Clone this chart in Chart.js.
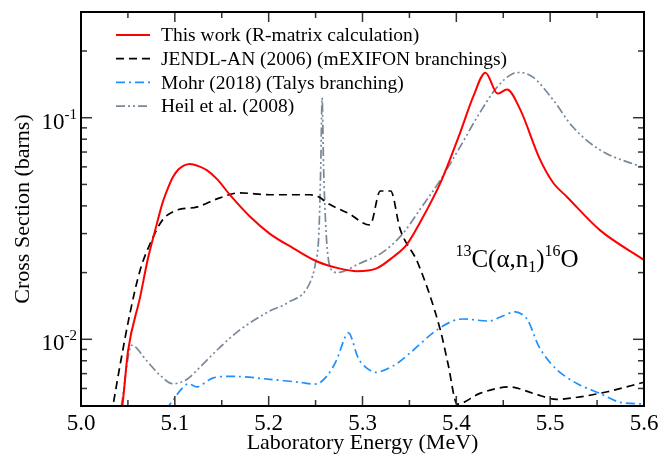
<!DOCTYPE html>
<html>
<head>
<meta charset="utf-8">
<script src="https://cdn.jsdelivr.net/npm/chart.js@4.4.1/dist/chart.umd.min.js"></script>
<style>
  html, body { margin: 0; padding: 0; background: #fff; }
</style>
</head>
<body>
<canvas id="seccionChart" width="659" height="456"></canvas>
<script>
// Energias (MeV) y secciones eficaces (barns)
const rmatrixE = [5.040, 5.044, 5.050, 5.063, 5.071, 5.079, 5.087, 5.093, 5.098, 5.104, 5.110, 5.116, 5.126, 5.134, 5.145, 5.159, 5.180, 5.201, 5.226, 5.251, 5.275, 5.294, 5.315, 5.333, 5.347, 5.361, 5.383, 5.404, 5.418, 5.431, 5.444, 5.454, 5.468, 5.489, 5.503, 5.518, 5.553, 5.600];
const rmatrixY = [0.0042, 0.0050, 0.0088, 0.0155, 0.0228, 0.031, 0.0414, 0.0485, 0.054, 0.0585, 0.0610, 0.0619, 0.0603, 0.058, 0.0528, 0.0447, 0.0358, 0.0300, 0.0258, 0.0225, 0.0209, 0.0203, 0.0209, 0.0236, 0.0267, 0.0335, 0.0508, 0.0855, 0.1245, 0.1597, 0.1285, 0.134, 0.109, 0.0650, 0.0510, 0.0439, 0.0311, 0.0228];

const jendlE = [5.030, 5.034, 5.042, 5.052, 5.063, 5.077, 5.087, 5.100, 5.124, 5.148, 5.169, 5.201, 5.244, 5.255, 5.262, 5.285, 5.308, 5.319, 5.330, 5.340, 5.359, 5.383, 5.391, 5.401, 5.425, 5.457, 5.482, 5.507, 5.532, 5.561, 5.600];
const jendlY = [0.0040, 0.0050, 0.0078, 0.0130, 0.0205, 0.029, 0.0346, 0.038, 0.0396, 0.0435, 0.0458, 0.0449, 0.0449, 0.0435, 0.0413, 0.037, 0.0328, 0.0467, 0.0467, 0.0315, 0.0221, 0.011, 0.0078, 0.0051, 0.0057, 0.0061, 0.0057, 0.00536, 0.0055, 0.0058, 0.0064];

const mohrE = [5.090, 5.098, 5.106, 5.114, 5.124, 5.141, 5.166, 5.201, 5.233, 5.252, 5.263, 5.272, 5.285, 5.297, 5.313, 5.333, 5.351, 5.379, 5.402, 5.436, 5.447, 5.463, 5.475, 5.489, 5.507, 5.529, 5.553, 5.574, 5.600];
const mohrY = [0.0048, 0.0053, 0.0059, 0.0063, 0.0061, 0.0067, 0.0068, 0.0066, 0.0064, 0.0063, 0.0069, 0.0080, 0.0107, 0.0080, 0.0071, 0.0076, 0.0087, 0.0110, 0.0123, 0.0121, 0.0126, 0.0133, 0.0124, 0.0091, 0.0073, 0.0063, 0.0057, 0.0052, 0.0051];

const heilE = [5.043, 5.054, 5.070, 5.084, 5.098, 5.113, 5.127, 5.148, 5.169, 5.201, 5.220, 5.244, 5.250, 5.2535, 5.2555, 5.2570, 5.2585, 5.2605, 5.2625, 5.267, 5.273, 5.297, 5.322, 5.343, 5.361, 5.383, 5.404, 5.425, 5.443, 5.460, 5.468, 5.482, 5.503, 5.524, 5.553, 5.600];
const heilY = [0.0050, 0.0094, 0.0080, 0.0069, 0.0063, 0.0066, 0.0075, 0.0092, 0.0110, 0.0134, 0.0146, 0.0180, 0.0222, 0.030, 0.060, 0.123, 0.060, 0.035, 0.0253, 0.0205, 0.0200, 0.0220, 0.0248, 0.030, 0.0384, 0.0524, 0.0739, 0.1053, 0.1367, 0.158, 0.160, 0.152, 0.1206, 0.091, 0.0716, 0.0594];

const etiquetas = ['This work (R-matrix calculation)', 'JENDL-AN (2006) (mEXIFON branchings)', 'Mohr (2018) (Talys branching)', 'Heil et al. (2008)'];

// Marcas de los ejes
const xMajor = [5.0, 5.1, 5.2, 5.3, 5.4, 5.5, 5.6];
const xMinor = [5.05, 5.15, 5.25, 5.35, 5.45, 5.55];
const yMajor = [0.01, 0.1];
const yMinor = [0.005, 0.006, 0.007, 0.008, 0.009, 0.02, 0.03, 0.04, 0.05, 0.06, 0.07, 0.08, 0.09, 0.2];

// Posicion de la anotacion de la reaccion (en unidades de los ejes)
const anotE = 5.399;
const anotY = 0.0213;

const fuente = '"Liberation Serif", "Times New Roman", serif';

function puntos(xs, ys) {
  return xs.map((x, i) => ({ x: x, y: ys[i] }));
}

const marcoPlugin = {
  id: 'marco',
  afterDraw(chart) {
    const ctx = chart.ctx;
    const a = chart.chartArea;
    const x = chart.scales.x;
    const y = chart.scales.y;
    function linea(x1, y1, x2, y2) {
      ctx.beginPath(); ctx.moveTo(x1, y1); ctx.lineTo(x2, y2); ctx.stroke();
    }
    ctx.save();
    ctx.strokeStyle = '#333';
    ctx.lineWidth = 1.5;
    xMajor.forEach(v => {
      const px = x.getPixelForValue(v);
      linea(px, a.bottom, px, a.bottom - 10);
      linea(px, a.top, px, a.top + 10);
    });
    xMinor.forEach(v => {
      const px = x.getPixelForValue(v);
      linea(px, a.bottom, px, a.bottom - 6);
      linea(px, a.top, px, a.top + 6);
    });
    yMajor.forEach(v => {
      const py = y.getPixelForValue(v);
      linea(a.left, py, a.left + 11, py);
      linea(a.right, py, a.right - 11, py);
    });
    yMinor.forEach(v => {
      const py = y.getPixelForValue(v);
      linea(a.left, py, a.left + 6, py);
      linea(a.right, py, a.right - 6, py);
    });
    ctx.strokeStyle = '#000';
    ctx.lineWidth = 2;
    ctx.strokeRect(a.left, a.top, a.right - a.left, a.bottom - a.top);

    // etiquetas del eje y: 10^-n
    ctx.fillStyle = '#000';
    ctx.textBaseline = 'alphabetic';
    yMajor.forEach(v => {
      const py = y.getPixelForValue(v);
      const sup = String(Math.round(Math.log10(v)));
      ctx.font = '15px ' + fuente;
      const wSup = ctx.measureText(sup).width;
      ctx.textAlign = 'left';
      ctx.fillText(sup, a.left - 4 - wSup, py + 1);
      ctx.font = '23px ' + fuente;
      ctx.textAlign = 'right';
      ctx.fillText('10', a.left - 4 - wSup, py + 11);
    });

    // leyenda
    ctx.font = '19.5px ' + fuente;
    ctx.textAlign = 'left';
    ctx.textBaseline = 'middle';
    chart.data.datasets.forEach((ds, i) => {
      const yy = a.top + 23 + i * 23.7;
      ctx.strokeStyle = ds.borderColor;
      ctx.lineWidth = ds.borderWidth;
      ctx.setLineDash(ds.borderDash || []);
      linea(a.left + 35, yy, a.left + 69, yy);
      ctx.setLineDash([]);
      ctx.fillText(ds.label, a.left + 80, yy + 1);
    });

    // anotacion 13C(a,n1)16O
    let px = x.getPixelForValue(anotE);
    const base = y.getPixelForValue(anotY);
    const trozos = [
      ['13', 16, -11], ['C(\u03b1,n', 25, 0], ['1', 16, 5], [')', 25, 0], ['16', 16, -11], ['O', 25, 0]
    ];
    ctx.textBaseline = 'alphabetic';
    trozos.forEach(t => {
      ctx.font = t[1] + 'px ' + fuente;
      ctx.fillText(t[0], px, base + t[2]);
      px += ctx.measureText(t[0]).width;
    });
    ctx.restore();
  }
};

Chart.defaults.font.family = fuente;
Chart.defaults.color = '#000';

const ctx = document.getElementById('seccionChart').getContext('2d');
const chart = new Chart(ctx, {
  type: 'line',
  data: {
    datasets: [
      {
        label: etiquetas[0],
        data: puntos(rmatrixE, rmatrixY),
        borderColor: '#ff0000',
        borderWidth: 2,
        cubicInterpolationMode: 'monotone',
      },
      {
        label: etiquetas[1],
        data: puntos(jendlE, jendlY),
        borderColor: '#000000',
        borderWidth: 1.7,
        borderDash: [8, 5],
        cubicInterpolationMode: 'monotone',
      },
      {
        label: etiquetas[2],
        data: puntos(mohrE, mohrY),
        borderColor: '#1e90ff',
        borderWidth: 1.7,
        borderDash: [9, 4, 2, 4],
        tension: 0.3,
      },
      {
        label: etiquetas[3],
        data: puntos(heilE, heilY),
        borderColor: '#778899',
        borderWidth: 1.7,
        borderDash: [9, 3, 2, 3, 2, 3],
        cubicInterpolationMode: 'monotone',
      },
    ],
  },
  options: {
    responsive: false,
    animation: false,
    devicePixelRatio: 1,
    layout: { padding: { top: 12, right: 15, left: 0, bottom: 0 } },
    elements: { point: { radius: 0 } },
    plugins: { legend: { display: false }, tooltip: { enabled: false } },
    scales: {
      x: {
        type: 'linear',
        min: 5.0,
        max: 5.6,
        grid: { display: false, drawTicks: false },
        border: { display: false },
        ticks: {
          stepSize: 0.1,
          padding: 4,
          color: '#000',
          font: { family: fuente, size: 23 },
          callback: v => Number(v).toFixed(1),
        },
        title: {
          display: true,
          text: 'Laboratory Energy (MeV)',
          color: '#000',
          font: { family: fuente, size: 22 },
          padding: { top: 0, bottom: 0 },
        },
        afterFit: s => { s.height = 50; s.paddingLeft = 0; s.paddingRight = 0; },
      },
      y: {
        type: 'logarithmic',
        min: 0.005,
        max: 0.3,
        grid: { display: false, drawTicks: false },
        border: { display: false },
        ticks: { display: false },
        title: {
          display: true,
          text: 'Cross Section (barns)',
          color: '#000',
          font: { family: fuente, size: 22 },
          padding: { top: 10, bottom: 0 },
        },
        afterFit: s => { s.width = 81; s.paddingTop = 0; s.paddingBottom = 0; },
      },
    },
  },
  plugins: [marcoPlugin],
});
</script>
</body>
</html>
